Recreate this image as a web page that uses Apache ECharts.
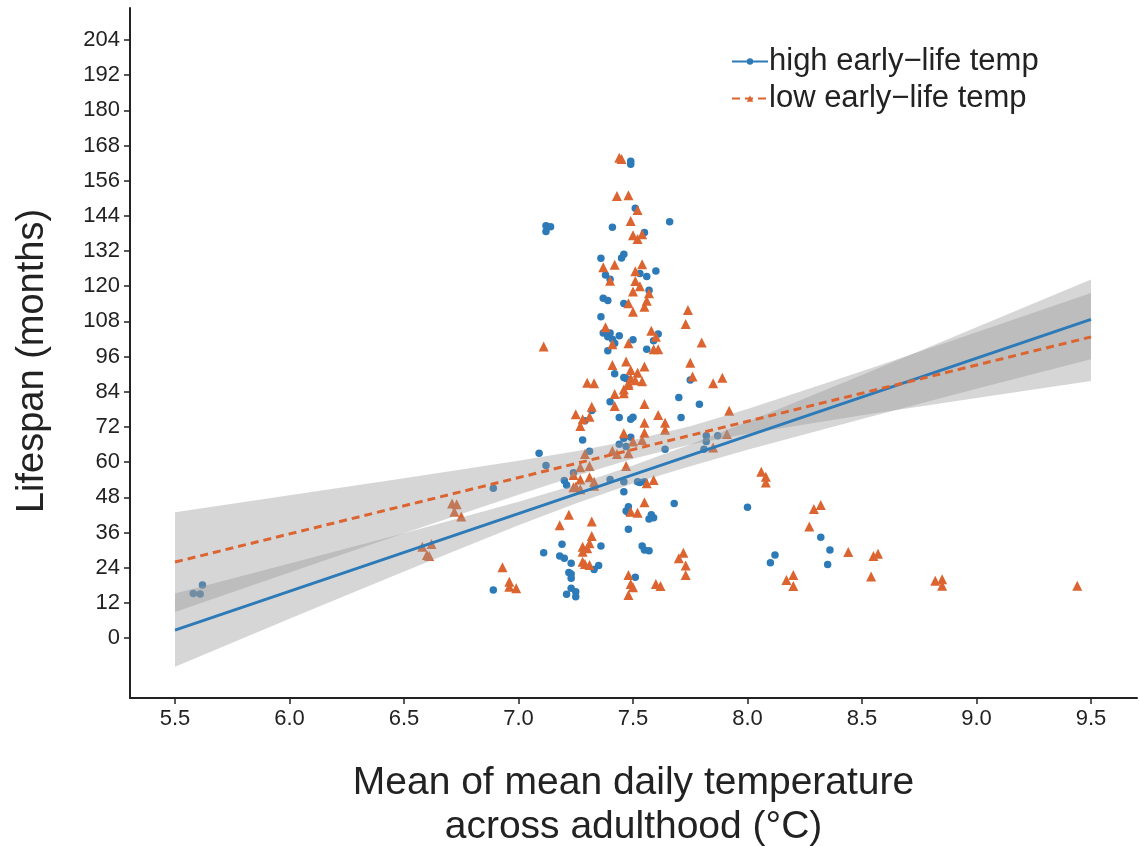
<!DOCTYPE html>
<html><head><meta charset="utf-8">
<script src="https://cdn.jsdelivr.net/npm/echarts@6/dist/echarts.min.js"></script>
<style>html,body{margin:0;padding:0;background:#fff}#c{width:1139px;height:846px}</style>
</head><body><div id="c"></div>
<script>
// ---- data ----
const seriesNames = ['high early\u2212life temp', 'low early\u2212life temp'];
const xTicks = [5.5, 6.0, 6.5, 7.0, 7.5, 8.0, 8.5, 9.0, 9.5];
const yTicks = [0, 12, 24, 36, 48, 60, 72, 84, 96, 108, 120, 132, 144, 156, 168, 180, 192, 204];

const highPoints = [
[7.49,162.6],[7.49,161.6],[7.51,146.6],[7.66,142.0],[7.41,140.1],[7.12,140.6],[7.14,140.3],[7.12,138.7],[7.55,138.3],
[7.36,129.5],[7.46,130.9],[7.45,129.6],[7.60,125.2],[7.53,124.3],[7.56,123.3],[7.38,123.8],[7.40,122.4],[7.57,118.6],
[7.37,115.9],[7.39,115.1],[7.46,114.1],[7.36,109.6],[7.37,104.0],[7.39,103.7],[7.39,102.8],[7.40,104.0],[7.41,101.9],
[7.42,100.5],[7.44,103.1],[7.39,98.0],[7.50,101.7],[7.61,103.7],[7.59,101.4],[7.56,98.5],[7.75,88.0],[7.42,90.1],
[7.46,88.9],[7.47,88.5],[7.40,80.6],[7.70,82.0],[7.79,79.7],[7.32,77.6],[7.29,74.1],[7.44,75.2],[7.49,74.6],[7.50,75.3],
[7.71,75.2],[7.28,67.5],[7.46,68.1],[7.49,68.5],[7.44,66.1],[7.47,65.3],[7.31,63.7],[7.09,63.0],[7.64,64.4],[7.82,69.0],
[7.87,69.0],[7.82,67.0],[7.81,64.4],[8.00,44.6],[8.12,28.3],[8.10,25.7],[8.32,34.4],[8.36,30.0],[8.35,25.1],[7.12,58.8],
[7.24,56.4],[7.20,53.7],[7.21,52.2],[7.40,54.1],[7.46,53.3],[7.52,53.3],[7.53,53.0],[7.55,53.3],[7.46,49.9],[7.68,45.9],
[7.48,44.8],[7.47,43.3],[7.48,42.7],[7.58,42.0],[7.57,40.6],[7.59,41.0],[7.48,37.1],[7.11,29.1],[7.19,32.0],[7.36,31.4],
[7.18,28.0],[7.20,27.2],[7.23,25.5],[7.35,24.7],[7.33,23.4],[7.22,22.3],[7.23,21.8],[7.23,20.4],[7.23,17.0],[7.25,15.8],
[7.21,14.9],[7.25,14.1],[7.54,31.4],[7.55,30.0],[7.57,29.8],[7.51,20.7],[6.89,16.4],[6.89,51.1],[5.62,18.1],[5.58,15.2],[5.61,15.0]
];
const lowPoints = [
[7.44,163.8],[7.45,163.4],[7.43,150.8],[7.48,151.0],[7.52,146.0],[7.49,142.2],[7.50,137.4],[7.54,137.7],[7.52,136.1],
[7.37,126.5],[7.42,127.3],[7.54,127.5],[7.51,125.1],[7.40,121.9],[7.51,121.8],[7.53,120.0],[7.57,117.6],[7.50,118.2],
[7.56,115.0],[7.55,113.0],[7.48,114.2],[7.74,111.9],[7.73,107.1],[7.50,111.3],[7.38,106.0],[7.41,100.2],[7.48,100.5],
[7.58,104.8],[7.60,102.8],[7.59,98.5],[7.61,98.5],[7.80,100.8],[7.11,99.4],[7.75,93.9],[7.76,89.2],[7.85,86.9],[7.89,88.8],
[7.47,94.3],[7.41,93.1],[7.49,91.4],[7.52,90.5],[7.55,92.6],[7.49,88.6],[7.51,87.9],[7.48,86.9],[7.54,87.6],[7.30,87.1],
[7.33,86.9],[7.48,86.3],[7.46,84.8],[7.46,83.5],[7.42,83.2],[7.42,79.1],[7.55,79.8],[7.32,78.9],[7.25,76.3],[7.31,75.5],
[7.28,74.6],[7.27,72.3],[7.61,76.1],[7.64,73.4],[7.64,71.0],[7.55,73.4],[7.46,69.8],[7.55,70.0],[7.54,67.5],[7.50,67.0],
[7.41,63.9],[7.48,63.0],[7.43,62.8],[7.29,62.8],[7.92,77.5],[7.91,69.6],[7.85,65.0],[8.06,56.7],[8.08,55.0],[8.08,53.0],
[8.20,21.5],[8.17,19.8],[8.20,17.7],[8.29,44.0],[8.32,45.4],[8.27,38.0],[8.44,29.3],[8.55,28.0],[8.57,28.7],[8.54,21.0],
[8.82,19.5],[8.85,20.0],[8.85,17.8],[9.44,17.8],[7.27,58.2],[7.31,58.7],[7.47,58.7],[7.24,55.6],[7.27,54.1],[7.25,51.6],
[7.24,51.4],[7.27,50.7],[7.31,54.8],[7.33,53.3],[7.33,51.9],[7.56,52.8],[7.59,53.9],[7.55,46.3],[7.52,42.7],[7.49,43.1],
[7.22,42.0],[7.18,38.5],[7.32,39.7],[7.32,34.8],[7.31,32.3],[7.28,31.1],[7.30,30.6],[7.28,29.4],[7.29,25.2],[7.28,26.0],
[7.31,24.9],[7.72,29.1],[7.70,27.2],[7.73,24.7],[7.73,21.5],[7.48,21.5],[7.49,18.4],[7.50,17.3],[7.48,14.7],[7.60,18.4],
[7.62,17.7],[6.93,24.1],[6.96,19.2],[6.96,17.5],[6.99,17.0],[6.71,45.9],[6.73,45.6],[6.72,43.1],[6.75,41.4],[6.58,31.1],
[6.62,32.1],[6.60,28.3],[6.61,28.0]
];

// fitted lines (endpoints) and confidence bands
const fitX = [5.5, 9.5];
const highFit = [2.7, 108.7];
const lowFit = [25.9, 102.7];
const bandX = [5.5, 6.0, 6.5, 7.0, 7.25, 7.5, 7.75, 8.0, 8.5, 9.0, 9.5];
const highLower = [-9.8, 6.6, 22.7, 38.5, 45.9, 52.7, 58.6, 64.2, 74.7, 85.0, 95.1];
const highUpper = [15.2, 25.4, 35.7, 46.5, 52.3, 58.8, 66.0, 73.8, 89.7, 106.0, 122.3];
const lowLower = [8.9, 22.3, 35.7, 48.9, 55.3, 61.1, 66.0, 69.7, 76.0, 81.9, 87.7];
const lowUpper = [42.9, 48.7, 54.5, 60.5, 63.7, 67.5, 72.2, 78.1, 91.0, 104.3, 117.7];

// ---- chart ----
const BLUE = '#2D7AB8', ORANGE = '#DC6430';
const FONT = '"Liberation Sans", Arial, sans-serif';
const chart = echarts.init(document.getElementById('c'), null, {renderer: 'canvas'});

function bandSeries(lower, upper) {
  return {
    type: 'custom', silent: true, z: 3,
    data: [[bandX[0], lower[0]]],
    renderItem: function (params, api) {
      const pts = [];
      for (let i = 0; i < bandX.length; i++) pts.push(api.coord([bandX[i], upper[i]]));
      for (let i = bandX.length - 1; i >= 0; i--) pts.push(api.coord([bandX[i], lower[i]]));
      return {type: 'polygon', shape: {points: pts}, style: {fill: 'rgba(153,153,153,0.4)'}};
    }
  };
}

chart.setOption({
  animation: false,
  backgroundColor: '#fff',
  grid: {left: 130, right: 2, top: 8, bottom: 148, containLabel: false, outerBoundsMode: 'none'},
  legend: {
    top: 41, left: 726, orient: 'vertical', itemGap: 6,
    itemWidth: 36, itemHeight: 8,
    textStyle: {fontSize: 31, color: '#222', fontFamily: FONT, padding: [0, 0, 0, -4]},
    data: seriesNames
  },
  xAxis: {
    type: 'value', min: 5.3035, max: 9.7009,
    name: 'Mean of mean daily temperature\nacross adulthood (\u00B0C)',
    nameLocation: 'middle', nameGap: 63, nameMoveOverlap: false,
    nameTextStyle: {fontSize: 39, color: '#222', fontFamily: FONT, lineHeight: 44, verticalAlign: 'top'},
    axisLine: {onZero: false, lineStyle: {color: '#222', width: 2}},
    axisTick: {show: true, length: 6, lineStyle: {color: '#222', width: 1.5}, customValues: xTicks},
    axisLabel: {fontSize: 22, color: '#222', fontFamily: FONT, margin: 10, customValues: xTicks,
      formatter: v => Number(v).toFixed(1)},
    splitLine: {show: false}
  },
  yAxis: {
    type: 'value', min: -20.47, max: 214.9,
    name: 'Lifespan (months)', nameLocation: 'middle', nameGap: 78, nameRotate: 90, nameMoveOverlap: false,
    nameTextStyle: {fontSize: 38, color: '#222', fontFamily: FONT, padding: [0, 16, 0, 0]},
    axisLine: {show: true, onZero: false, lineStyle: {color: '#222', width: 2}},
    axisTick: {show: true, length: 6, lineStyle: {color: '#222', width: 1.5}, customValues: yTicks},
    axisLabel: {fontSize: 22, color: '#222', fontFamily: FONT, margin: 10, customValues: yTicks},
    splitLine: {show: false}
  },
  series: [
    {type: 'scatter', name: 'high_pts', data: highPoints, symbol: 'circle', symbolSize: 7.5,
     itemStyle: {color: BLUE, opacity: 1}, z: 2, silent: true},
    {type: 'scatter', name: 'low_pts', data: lowPoints, symbol: 'triangle', symbolSize: 10,
     itemStyle: {color: ORANGE, opacity: 1}, z: 2, silent: true},
    bandSeries(highLower, highUpper),
    bandSeries(lowLower, lowUpper),
    {type: 'line', name: seriesNames[0], data: fitX.map((x, i) => [x, highFit[i]]),
     symbol: 'circle', symbolSize: 6, showSymbol: false, z: 4,
     lineStyle: {color: BLUE, width: 3}, itemStyle: {color: BLUE}},
    {type: 'line', name: seriesNames[1], data: fitX.map((x, i) => [x, lowFit[i]]),
     symbol: 'triangle', symbolSize: 8, showSymbol: false, z: 4,
     lineStyle: {color: ORANGE, width: 3, type: [8, 5]}, itemStyle: {color: ORANGE}}
  ]
});
</script></body></html>
